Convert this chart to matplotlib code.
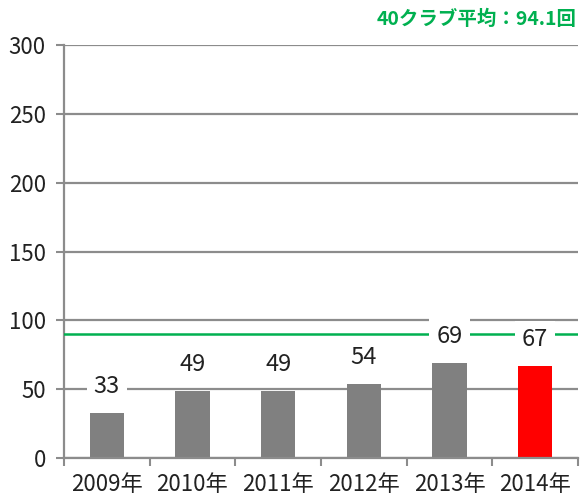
import matplotlib
matplotlib.use('Agg')
import matplotlib.pyplot as plt
import numpy as np

plt.rcParams['font.family'] = ['Noto Sans CJK JP', 'DejaVu Sans']

years = ['2009年', '2010年', '2011年', '2012年', '2013年', '2014年']
counts = [33, 49, 49, 54, 69, 67]
bar_colors = ['#808080', '#808080', '#808080', '#808080', '#808080', '#FF0000']
avg_line = 90
avg_text = '40クラブ平均：94.1回'

fig = plt.figure(figsize=(5.81, 4.96), dpi=100)
ax = fig.add_axes([0.110, 0.0766, 0.885, 0.8325])

x = np.arange(len(years))
ax.set_axisbelow(True)
ax.yaxis.grid(True, color='#8c8c8c', linewidth=1.6)
ax.bar(x, counts, width=0.4, color=bar_colors, zorder=2)
ax.axhline(avg_line, color='#00B050', linewidth=1.8, zorder=3)

for xi, v in zip(x, counts):
    ax.annotate(str(v), (xi, v), xytext=(0, 19), textcoords='offset points',
                ha='center', va='center', fontsize=17, color='#222222', zorder=4,
                bbox=dict(boxstyle='square,pad=0.3', fc='white', ec='none'))

ax.set_xlim(-0.5, len(years) - 0.5)
ax.set_ylim(0, 300)
ax.set_yticks(np.arange(0, 301, 50))
ax.set_xticks(x)
ax.set_xticklabels(years, fontsize=16, color='#222222')
ax.set_xticks(np.arange(-0.5, len(years), 1), minor=True)
ax.tick_params(axis='x', which='major', length=0, pad=11)
ax.tick_params(axis='x', which='minor', length=6, color='#8c8c8c', width=1.5)
ax.tick_params(axis='y', length=6, color='#8c8c8c', width=1.5, labelsize=16,
               labelcolor='#222222', pad=7)

for s in ['top', 'right']:
    ax.spines[s].set_visible(False)
for s in ['left', 'bottom']:
    ax.spines[s].set_color('#8c8c8c')
    ax.spines[s].set_linewidth(1.6)

fig.text(0.992, 0.962, avg_text, ha='right', va='center', fontsize=14,
         fontweight='bold', color='#00B050')

fig.savefig('out.png', dpi=100)
